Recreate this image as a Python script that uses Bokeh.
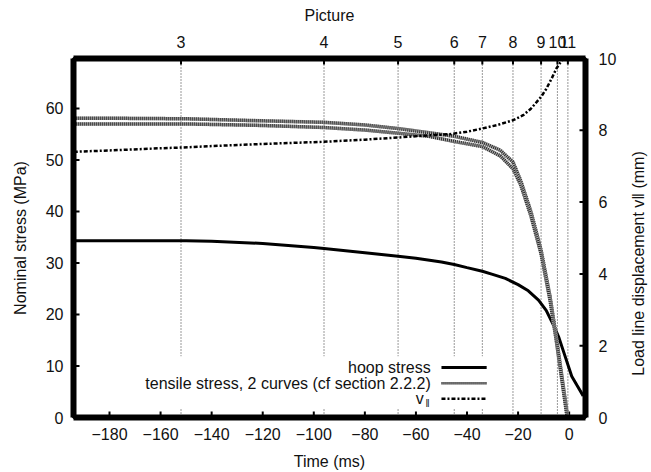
import math
from bokeh.plotting import figure
from bokeh.models import Range1d, LinearAxis, FixedTicker, Label, Span, BoxAnnotation
from bokeh.embed import file_html
from bokeh.resources import INLINE

# ---------------- data ----------------
time_hoop = [-194, -180, -160, -150, -140, -120, -100, -96, -80, -67, -60, -50, -45, -40,
             -34, -30, -25, -20, -16, -12, -9, -6, -4, -2, 0, 1, 3, 5.5]
hoop_stress = [34.3, 34.3, 34.3, 34.3, 34.2, 33.8, 33.0, 32.8, 32.0, 31.3, 30.9, 30.2, 29.7, 29.1,
               28.4, 27.8, 27.0, 25.8, 24.6, 22.8, 20.8, 17.8, 15.5, 12.5, 9.5, 8.0, 6.3, 4.2]

time_tensile = [-194, -180, -150, -120, -96, -80, -67, -55, -45, -34, -27, -22, -19, -15,
                -11, -7.5, -5, -3, -1, -0.5]
tensile_upper = [58.1, 58.1, 58.0, 57.6, 57.3, 56.8, 56.1, 55.3, 54.6, 53.4, 51.9, 49.6, 46.0, 40.0,
                 32.5, 23.5, 15.5, 8.5, 1.5, 0.0]
tensile_lower = [57.0, 57.0, 57.0, 56.7, 56.3, 55.8, 55.2, 54.6, 53.6, 52.6, 50.8, 48.3, 45.2, 39.2,
                 31.8, 22.8, 14.8, 7.8, 0.8, -0.3]

time_v = [-194, -180, -160, -152, -140, -120, -96, -80, -67, -55, -47, -40, -34, -28, -22,
          -18, -15, -11, -9, -7, -5, -3.5, -2.3]
v_par = [7.40, 7.44, 7.50, 7.52, 7.56, 7.62, 7.68, 7.74, 7.80, 7.86, 7.89, 7.96, 8.05, 8.15, 8.28,
         8.42, 8.60, 8.93, 9.15, 9.42, 9.72, 9.88, 10.0]

picture_labels = ["3", "4", "5", "6", "7", "8", "9", "10", "11"]
picture_times = [-152, -96, -67, -45, -34, -22, -11, -4.6, -0.5]

x_ticks = [-180, -160, -140, -120, -100, -80, -60, -40, -20, 0]
y_ticks = [0, 10, 20, 30, 40, 50, 60]
v_ticks = [0, 2, 4, 6, 8, 10]

legend_labels = ["hoop stress", "tensile stress, 2 curves (cf section 2.2.2)", "v"]

# ---------------- styling ----------------
FONT = "Liberation Sans"
FS = "16px"
TXT = "#111111"
X0, X1 = -194.1, 6.4
Y0, Y1 = 0.0, 69.7
V0, V1 = 0.0, 10.0
FW, FH = 512, 360  # frame size in px

p = figure(width=651, height=472, output_backend="svg", toolbar_location=None,
           x_range=Range1d(X0, X1), y_range=Range1d(Y0, Y1),
           min_border_left=73, min_border_right=66, min_border_top=58, min_border_bottom=54,
           x_axis_label="Time (ms)", y_axis_label="Nominal stress (MPa)")
p.extra_y_ranges = {"v": Range1d(V0, V1)}
p.xgrid.visible = False
p.ygrid.visible = False
p.outline_line_color = "black"
p.outline_line_width = 3
p.background_fill_color = "white"
p.border_fill_color = "white"

def style_axis(ax, standoff, label_standoff):
    ax.axis_line_width = 6
    ax.axis_line_color = "black"
    ax.major_tick_in = 0
    ax.major_tick_out = 0
    ax.major_tick_line_color = None
    ax.minor_tick_line_color = None
    ax.major_label_text_font = FONT
    ax.major_label_text_font_size = FS
    ax.major_label_text_color = TXT
    ax.axis_label_text_font = FONT
    ax.axis_label_text_font_size = FS
    ax.axis_label_text_font_style = "normal"
    ax.axis_label_text_color = TXT
    ax.major_label_standoff = standoff
    ax.axis_label_standoff = label_standoff

xa = p.xaxis[0]
xa.ticker = FixedTicker(ticks=x_ticks)
xa.major_label_overrides = {t: ("\u2212" + str(-t) if t < 0 else str(t)) for t in x_ticks}
style_axis(xa, 10, 10)

ya = p.yaxis[0]
ya.ticker = FixedTicker(ticks=y_ticks)
style_axis(ya, 10, 14)

ra = LinearAxis(y_range_name="v", ticker=FixedTicker(ticks=v_ticks))
style_axis(ra, 13, 10)
p.add_layout(ra, "right")

ta = LinearAxis(ticker=FixedTicker(ticks=picture_times), axis_label="Picture",
                major_label_overrides={t: l for t, l in zip(picture_times, picture_labels)})
style_axis(ta, 11, 9)
p.add_layout(ta, "above")

# right axis title, reading bottom-to-top, in its own side panel
p.add_layout(Label(x=19, y=FH / 2 - 26, x_units="screen", y_units="screen",
                   text="Load line displacement v\u2016 (mm)", angle=math.pi / 2,
                   text_align="center", text_baseline="middle",
                   text_font=FONT, text_font_size=FS, text_color=TXT), "right")

# dotted vertical lines at picture times
for t in picture_times:
    p.add_layout(Span(location=t, dimension="height", line_color="#333333",
                      line_width=1, line_dash="1 2", level="underlay"))

# opaque key box (under the glyphs)
p.add_layout(BoxAnnotation(left=-172, right=-30, bottom=1.8, top=11.9,
                           fill_color="white", fill_alpha=1.0, line_alpha=0, level="underlay"))

# inward ticks (gnuplot style), lengths derived from the ranges
tx = 6 * (X1 - X0) / FW
ty = 6 * (Y1 - Y0) / FH
k = (Y1 - Y0) / (V1 - V0)
TW = 2
p.segment(x_ticks, [Y0] * len(x_ticks), x_ticks, [Y0 + ty] * len(x_ticks), line_color="black", line_width=TW)
p.segment(picture_times, [Y1 - ty] * len(picture_times), picture_times, [Y1] * len(picture_times),
          line_color="black", line_width=TW)
p.segment([X0] * len(y_ticks), y_ticks, [X0 + tx] * len(y_ticks), y_ticks, line_color="black", line_width=TW)
p.segment([X1 - tx] * len(v_ticks), [v * k for v in v_ticks], [X1] * len(v_ticks), [v * k for v in v_ticks],
          line_color="black", line_width=TW)

# curves
p.line(time_hoop, hoop_stress, line_color="black", line_width=3)
for series in (tensile_upper, tensile_lower):
    p.line(time_tensile, series, line_color="#b0b0b0", line_width=3.5)
    p.line(time_tensile, series, line_color="#2a2a2a", line_width=3.5, line_dash="1 1")
p.line(time_v, v_par, line_color="black", line_width=2.5, line_dash="4 2 2 2", y_range_name="v")

# key (label on the left, sample on the right)
key_y = [9.73, 6.64, 3.64]
key_text_x = -54.2
for lab, yy in zip(legend_labels, key_y):
    p.add_layout(Label(x=key_text_x, y=yy, text=lab, text_align="right", text_baseline="middle",
                       text_font=FONT, text_font_size=FS, text_color=TXT,
                       x_offset=(-7 if lab == "v" else 0)))
p.add_layout(Label(x=key_text_x, y=key_y[2], text="\u2016", text_align="right", text_baseline="middle",
                   text_font=FONT, text_font_size="10px", text_color=TXT, y_offset=-5, x_offset=-1))
sx0, sx1 = -50.0, -32.3
p.segment([sx0], [key_y[0]], [sx1], [key_y[0]], line_color="black", line_width=3)
p.segment([sx0], [key_y[1]], [sx1], [key_y[1]], line_color="#b0b0b0", line_width=2.5)
p.segment([sx0], [key_y[1]], [sx1], [key_y[1]], line_color="#2a2a2a", line_width=2.5, line_dash="1 1")
p.segment([sx0], [key_y[2]], [sx1], [key_y[2]], line_color="black", line_width=2.5, line_dash="4 2 2 2")

open("out.html", "w").write(file_html(p, INLINE))
